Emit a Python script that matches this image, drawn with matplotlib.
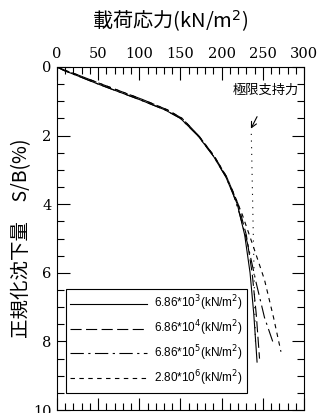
import matplotlib
matplotlib.use("Agg")
from matplotlib import pyplot as plt
from matplotlib.ticker import MultipleLocator

plt.rcParams['font.family'] = ['DejaVu Serif', 'Noto Sans CJK JP']

# 載荷応力 (kN/m2) と 正規化沈下量 S/B (%)
p_a = [0, 8, 22, 50, 100, 131, 150, 171, 190, 205, 219, 228, 234.5, 239, 243]
s_a = [0, 0.1, 0.23, 0.5, 0.95, 1.25, 1.5, 2.0, 2.6, 3.2, 4.0, 4.9, 6.0, 7.2, 8.6]
p_b = [0, 10, 25, 54, 104, 134, 152, 172, 191, 206, 220, 230, 237, 242, 246]
s_b = [0, 0.1, 0.23, 0.5, 0.95, 1.25, 1.5, 2.0, 2.6, 3.2, 4.0, 4.9, 6.0, 7.2, 8.5]
p_c = [0, 8, 22, 50, 100, 131, 150, 171, 190, 205, 214, 222, 232, 242, 252, 262]
s_c = [0, 0.1, 0.23, 0.5, 0.95, 1.25, 1.5, 2.0, 2.6, 3.2, 3.7, 4.3, 5.2, 6.3, 7.3, 8.0]
p_d = [0, 10, 25, 54, 104, 134, 152, 172, 191, 206, 215, 225, 238, 252, 263, 272]
s_d = [0, 0.1, 0.23, 0.5, 0.95, 1.25, 1.5, 2.0, 2.6, 3.2, 3.7, 4.3, 5.2, 6.2, 7.3, 8.3]

labels = ['6.86*10$^3$(kN/m$^2$)', '6.86*10$^4$(kN/m$^2$)',
          '6.86*10$^5$(kN/m$^2$)', '2.80*10$^6$(kN/m$^2$)']

# 極限支持力
p_ult = [236, 241]
s_ult = [1.95, 8.0]

fig = plt.figure(figsize=(3.2, 4.13), dpi=100)
ax = fig.add_axes([0.178, 0.007, 0.772, 0.831])

ax.plot(p_a, s_a, color='black', lw=0.8, ls='-', label=labels[0])
ax.plot(p_b, s_b, color='black', lw=0.8, ls=(0, (10, 4)), label=labels[1])
ax.plot(p_c, s_c, color='black', lw=0.8, ls=(0, (12, 4, 2, 4)), label=labels[2])
ax.plot(p_d, s_d, color='black', lw=0.8, ls=(0, (4, 4)), label=labels[3])
ax.plot(p_ult, s_ult, color='black', lw=0.8, ls=(0, (1, 5)))

ax.text(253, 0.68, '極限支持力', ha='center', va='center', fontsize=9.5,
        family=['Noto Sans CJK JP'])
ax.annotate('', xy=(235.5, 1.8), xytext=(243, 1.45),
            arrowprops=dict(arrowstyle='->', lw=0.8, color='black',
                            shrinkA=0, shrinkB=0))

ax.set_xlim(0, 300)
ax.set_ylim(10, 0)
ax.xaxis.set_major_locator(MultipleLocator(50))
ax.xaxis.set_minor_locator(MultipleLocator(10))
ax.yaxis.set_major_locator(MultipleLocator(2))
ax.yaxis.set_minor_locator(MultipleLocator(0.5))
ax.tick_params(which='both', direction='in', top=True, bottom=True,
               left=True, right=True, labeltop=True, labelbottom=False,
               labelsize=10.5, width=0.8)
ax.tick_params(which='major', length=9, pad=4)
ax.tick_params(which='minor', length=5)
for sp in ax.spines.values():
    sp.set_linewidth(0.8)

ax.xaxis.set_label_position('top')
ax.set_xlabel('載荷応力(kN/m$^2$)', fontsize=14.5,
              family=['Noto Sans CJK JP'])
ax.xaxis.set_label_coords(0.46, 1.115)
ax.set_ylabel('正規化沈下量　S/B(%)', fontsize=14,
              family=['Noto Sans CJK JP'])
ax.yaxis.set_label_coords(-0.10, 0.5)

leg = ax.legend(loc='lower left', bbox_to_anchor=(0.035, 0.05),
                handlelength=6.5, labelspacing=0.45, handletextpad=0.6,
                borderaxespad=0, fancybox=False, edgecolor='black',
                framealpha=1, prop={'family': 'Liberation Sans', 'size': 8.5})
leg.get_frame().set_linewidth(0.8)

fig.savefig('out.png', dpi=100)
